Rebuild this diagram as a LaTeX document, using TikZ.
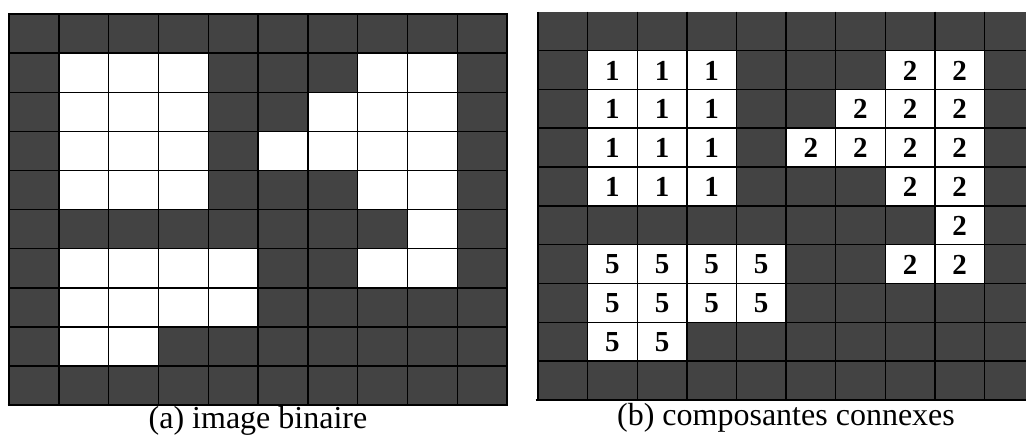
\documentclass[tikz,border=0pt]{standalone}
\usepackage{fontspec}
\setmainfont{Liberation Serif}
\definecolor{cellgray}{HTML}{434343}
\tikzset{
  gridline/.style={black, line width=1.4pt},
  border/.style={black, line width=2pt},
  lbl/.style={font=\fontsize{29}{33}\selectfont\bfseries, inner sep=0pt},
  captext/.style={font=\fontsize{32}{38}\selectfont, inner sep=0pt, anchor=base},
}
\begin{document}
\begin{tikzpicture}[x=1pt,y=-1pt]
\useasboundingbox (0,0) rectangle (1026,440);
% ---------- left grid ----------
\def\LX{9}\def\LY{14}\def\LW{49.8}\def\LH{39.13}
\fill[cellgray] (\LX,\LY) rectangle (\LX+10*\LW,\LY+10*\LH);
\foreach \r/\c in {1/1,1/2,1/3,1/7,1/8,
                   2/1,2/2,2/3,2/6,2/7,2/8,
                   3/1,3/2,3/3,3/5,3/6,3/7,3/8,
                   4/1,4/2,4/3,4/7,4/8,
                   5/8,
                   6/1,6/2,6/3,6/4,6/7,6/8,
                   7/1,7/2,7/3,7/4,
                   8/1,8/2}
  \fill[white] (\LX+\c*\LW,\LY+\r*\LH) rectangle (\LX+\c*\LW+\LW,\LY+\r*\LH+\LH);
\foreach \i in {1,...,9} {
  \draw[gridline] (\LX+\i*\LW,\LY) -- (\LX+\i*\LW,\LY+10*\LH);
  \draw[gridline] (\LX,\LY+\i*\LH) -- (\LX+10*\LW,\LY+\i*\LH);
}
\draw[border] (\LX,\LY) rectangle (\LX+10*\LW,\LY+10*\LH);
\draw[border] (\LX-1.5,\LY+10*\LH) -- (\LX,\LY+10*\LH);
% ---------- right grid ----------
\def\RX{538}\def\RY{11.7}\def\RW{49.6}\def\RH{38.83}
\begin{scope}
\clip (0,0) rectangle (1026,440);
\fill[cellgray] (\RX,\RY) rectangle (1030,\RY+10*\RH);
\foreach \r/\c in {1/1,1/2,1/3,1/7,1/8,
                   2/1,2/2,2/3,2/6,2/7,2/8,
                   3/1,3/2,3/3,3/5,3/6,3/7,3/8,
                   4/1,4/2,4/3,4/7,4/8,
                   5/8,
                   6/1,6/2,6/3,6/4,6/7,6/8,
                   7/1,7/2,7/3,7/4,
                   8/1,8/2}
  \fill[white] (\RX+\c*\RW,\RY+\r*\RH) rectangle (\RX+\c*\RW+\RW,\RY+\r*\RH+\RH);
\foreach \i in {0,...,9} {
  \draw[gridline] (\RX+\i*\RW,\RY) -- (\RX+\i*\RW,\RY+10*\RH);
}
\foreach \i in {1,...,9} {
  \draw[gridline] (\RX,\RY+\i*\RH) -- (1030,\RY+\i*\RH);
}
\draw[border] (\RX-2.5,\RY+10*\RH) -- (1030,\RY+10*\RH);
\end{scope}
% labels
\foreach \r/\c/\v [count=\k] in {1/1/1,1/2/1,1/3/1,1/7/2,1/8/2,
                   2/1/1,2/2/1,2/3/1,2/6/2,2/7/2,2/8/2,
                   3/1/1,3/2/1,3/3/1,3/5/2,3/6/2,3/7/2,3/8/2,
                   4/1/1,4/2/1,4/3/1,4/7/2,4/8/2,
                   5/8/2,
                   6/1/5,6/2/5,6/3/5,6/4/5,6/7/2,6/8/2,
                   7/1/5,7/2/5,7/3/5,7/4/5,
                   8/1/5,8/2/5}
  \node[lbl] (n\k) at (\RX+\c*\RW+0.5*\RW,\RY+\r*\RH+0.5*\RH+0.5) {\v};
% captions
\node[captext] (capa) at (258,428) {(a) image binaire};
\node[captext] (capb) at (786,425) {(b) composantes connexes};
\end{tikzpicture}
\end{document}
